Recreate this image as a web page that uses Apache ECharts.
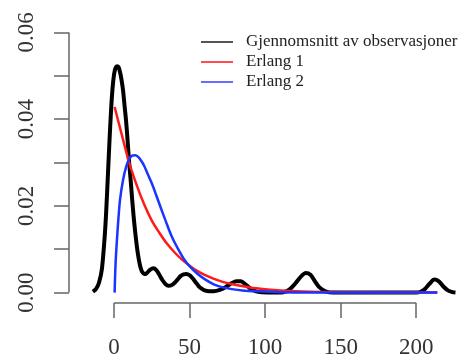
<!DOCTYPE html>
<html>
<head>
<meta charset="utf-8">
<script src="https://cdn.jsdelivr.net/npm/echarts@6/dist/echarts.min.js"></script>
<style>
  html, body { margin: 0; padding: 0; background: #fff; }
  #chart { width: 464px; height: 361px; }
</style>
</head>
<body>
<div id="chart"></div>
<script>
// Density of observed means vs. fitted Erlang densities
const seriesNames = ['Gjennomsnitt av observasjoner', 'Erlang 1', 'Erlang 2'];

const xTicks = [0, 50, 100, 150, 200];
const yTicks = [0, 0.01, 0.02, 0.03, 0.04, 0.05, 0.06];
const yTickLabels = [0, 0.02, 0.04, 0.06];

// Observed mean: kernel density estimate
const obsX = [-14, -12, -10, -8, -6, -5, -4, -3, -2, -1, 0, 1, 2, 3, 4, 5, 6, 7, 8, 9, 10,
  11, 12, 13, 14, 15, 16, 17, 18, 19, 20, 21, 22, 24, 26, 28, 30, 32, 34, 36, 38, 40,
  42, 44, 46, 48, 50, 52, 54, 56, 58, 60, 63, 66, 70, 74, 78, 81, 84, 87, 90, 94, 98,
  105, 112, 116, 120, 124, 127, 130, 133, 136, 140, 145, 200, 203, 206, 209, 212, 215,
  218, 221, 224, 226];
const obsY = [0.0002, 0.0008, 0.0022, 0.0055, 0.0138, 0.020, 0.0275, 0.035, 0.0418, 0.047,
  0.0503, 0.0518, 0.0522, 0.052, 0.0508, 0.049, 0.0466, 0.043, 0.0395, 0.035, 0.030,
  0.026, 0.0215, 0.0175, 0.014, 0.011, 0.0085, 0.0066, 0.0053, 0.0046, 0.0043, 0.0043,
  0.0046, 0.0053, 0.0056, 0.0052, 0.0041, 0.0029, 0.0020, 0.0016, 0.0017, 0.0022,
  0.0030, 0.0038, 0.0042, 0.0043, 0.0040, 0.0033, 0.0024, 0.0015, 0.0009, 0.0005,
  0.0003, 0.0003, 0.0006, 0.0013, 0.0022, 0.0026, 0.0026, 0.0019, 0.0010, 0.0003, 0.0001,
  0, 0.0001, 0.0007, 0.0021, 0.0038, 0.0045, 0.0041, 0.0026, 0.0012, 0.0003, 0,
  0, 0.0002, 0.0009, 0.0021, 0.003, 0.0026, 0.0014, 0.0005, 0.0001, 0];

// Erlang 1 fit
const erl1X = [0.4, 5, 10, 15, 20, 25, 30, 35, 40, 45, 50, 55, 60, 70, 80, 90, 100, 110, 130, 150, 180, 214];
const erl1Y = [0.0428, 0.0366, 0.0300, 0.0248, 0.0203, 0.0166, 0.0138, 0.0113, 0.0093, 0.0076,
  0.0062, 0.0050, 0.0041, 0.0027, 0.0018, 0.0012, 0.0008, 0.0005, 0.0002, 0.0001, 0.00003, 0];

// Erlang 2 fit
const erl2X = [0.4, 1, 2, 3, 4, 6, 8, 10, 12, 14, 16, 18, 20, 22, 25, 28, 31, 34, 38, 42, 46,
  50, 55, 60, 66, 72, 78, 85, 95, 110, 130, 214];
const erl2Y = [0, 0.0065, 0.0125, 0.0175, 0.0215, 0.0260, 0.0290, 0.0308, 0.0316, 0.0317,
  0.0313, 0.0304, 0.0292, 0.0276, 0.0252, 0.0224, 0.0195, 0.0167, 0.0131, 0.0103, 0.0079,
  0.0061, 0.0044, 0.0031, 0.0019, 0.0012, 0.0008, 0.0005, 0.0003, 0.0001, 0.00003, 0];

const pairs = (xs, ys) => xs.map((x, i) => [x, ys[i]]);

const X_MIN = -29.8, X_MAX = 229;
const Y_MIN = -0.0024, Y_MAX = 0.0624;
const serif = '"Liberation Serif", "DejaVu Serif", serif';
const axisGray = '#666';

const chart = echarts.init(document.getElementById('chart'), null, { renderer: 'canvas' });
chart.setOption({
  animation: false,
  backgroundColor: '#fff',
  grid: { left: 69, right: 4, top: 22, bottom: 58, containLabel: false },
  legend: {
    orient: 'vertical',
    left: 201,
    top: 32,
    padding: 0,
    itemGap: 0,
    itemWidth: 32,
    itemHeight: 2,
    icon: 'rect',
    selectedMode: false,
    textStyle: { fontFamily: serif, fontSize: 17, color: '#222', lineHeight: 20, padding: [0, 0, 0, 8] },
    data: [
      { name: seriesNames[0], itemStyle: { color: '#555' } },
      { name: seriesNames[1], itemStyle: { color: '#ff4d4d' } },
      { name: seriesNames[2], itemStyle: { color: '#6a6aff' } }
    ]
  },
  xAxis: {
    type: 'value',
    min: X_MIN,
    max: X_MAX,
    splitLine: { show: false },
    axisLine: { show: false, onZero: false },
    axisTick: { show: true, customValues: xTicks, length: 15, lineStyle: { color: axisGray, width: 1.5 } },
    axisLabel: { customValues: xTicks, margin: 33, fontFamily: serif, fontSize: 23, color: '#333' }
  },
  yAxis: {
    type: 'value',
    min: Y_MIN,
    max: Y_MAX,
    splitLine: { show: false },
    axisLine: { show: false, onZero: false },
    axisTick: { show: true, customValues: yTicks, length: 15, lineStyle: { color: axisGray, width: 1.5 } },
    axisLabel: {
      customValues: yTickLabels, rotate: 90, margin: 31,
      fontFamily: serif, fontSize: 23, color: '#333',
      formatter: v => v.toFixed(2)
    }
  },
  series: [
    {
      name: seriesNames[0], type: 'line', data: pairs(obsX, obsY),
      symbol: 'none', smooth: 0.3, clip: false,
      lineStyle: { color: '#000', width: 4 }, itemStyle: { color: '#000' },
      markLine: {
        silent: true, symbol: 'none', label: { show: false },
        lineStyle: { color: axisGray, width: 1.5, type: 'solid' },
        data: [
          [{ coord: [xTicks[0], Y_MIN] }, { coord: [xTicks[xTicks.length - 1], Y_MIN] }],
          [{ coord: [X_MIN, yTicks[0]] }, { coord: [X_MIN, yTicks[yTicks.length - 1]] }]
        ]
      }
    },
    {
      name: seriesNames[1], type: 'line', data: pairs(erl1X, erl1Y),
      symbol: 'none', smooth: 0.3, clip: false,
      lineStyle: { color: '#ff1a1a', width: 2.5 }, itemStyle: { color: '#ff1a1a' }
    },
    {
      name: seriesNames[2], type: 'line', data: pairs(erl2X, erl2Y),
      symbol: 'none', smooth: 0.3, clip: false,
      lineStyle: { color: '#1a35ff', width: 2.5 }, itemStyle: { color: '#1a35ff' }
    }
  ]
});
</script>
</body>
</html>
